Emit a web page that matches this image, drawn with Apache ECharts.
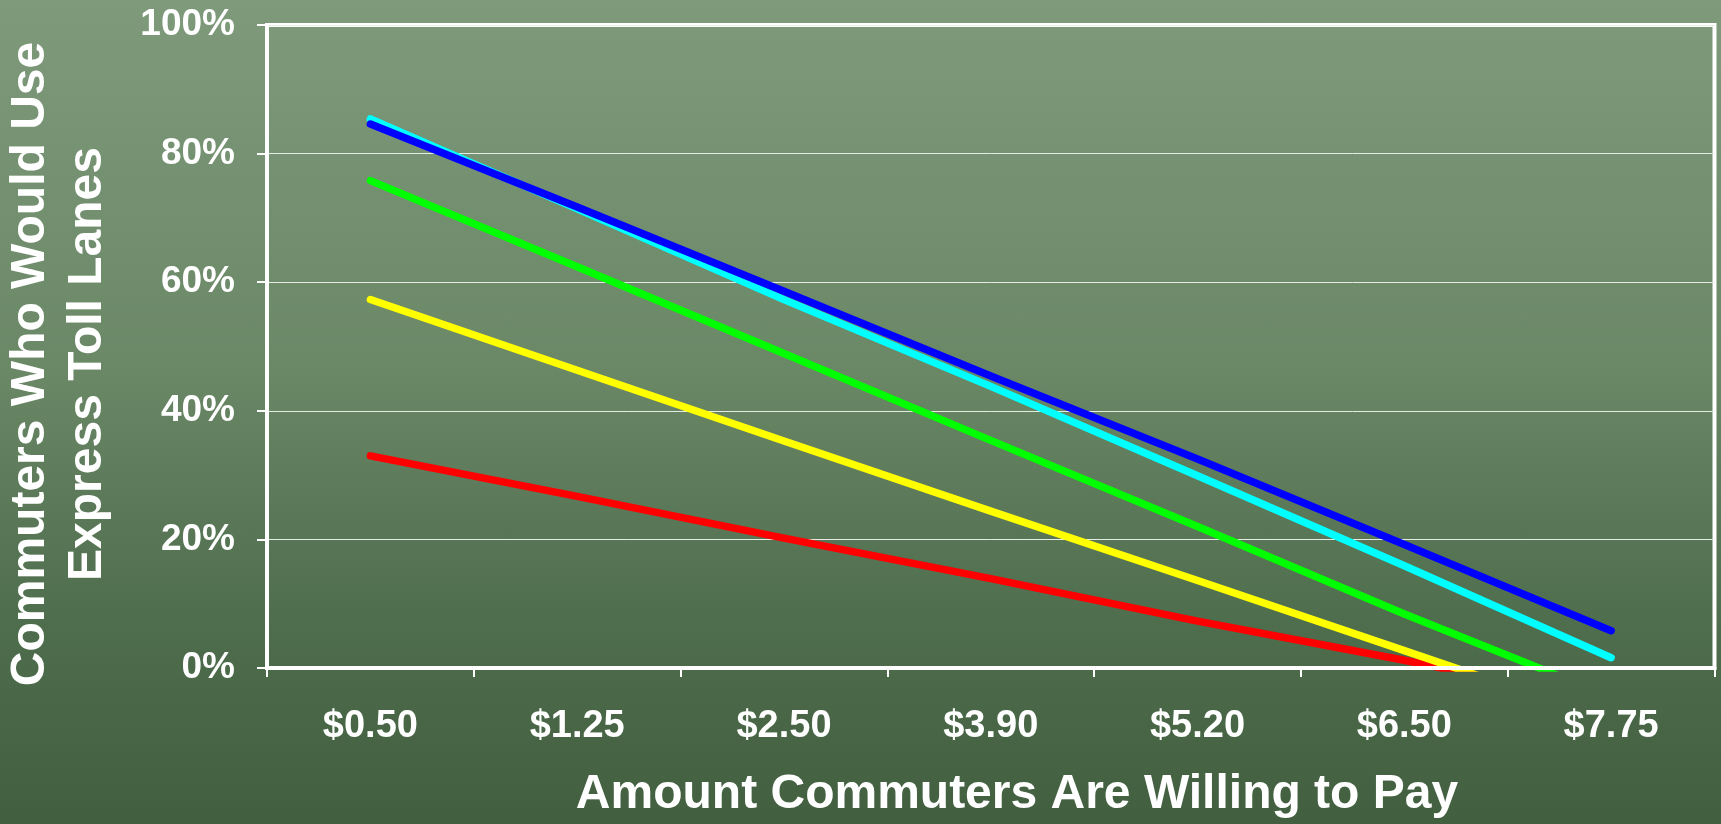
<!DOCTYPE html>
<html>
<head>
<meta charset="utf-8">
<script src="https://cdn.jsdelivr.net/npm/echarts@6/dist/echarts.min.js"></script>
<style>
  html, body { margin: 0; padding: 0; width: 1721px; height: 824px; overflow: hidden;
    background: linear-gradient(to bottom, #7e9a7b 0%, #6a8766 45%, #4f6e4d 75%, #425f40 100%); }
  #chart { width: 1721px; height: 824px; }
</style>
</head>
<body>
<div id="chart"></div>
<script>
// Data (percent of commuters who would use express toll lanes)
const categories = ['$0.50', '$1.25', '$2.50', '$3.90', '$5.20', '$6.50', '$7.75'];
const redValues    = [33.0, 26.7, 20.2, 13.9, 7.3, 1.2, -5.5];
const yellowValues = [57.3, 46.3, 35.3, 24.4, 13.6, 2.7, -8.2];
const greenValues  = [75.8, 62.4, 48.9, 35.4, 22.0, 8.4, -4.5];
const cyanValues   = [85.4, 71.4, 57.3, 43.8, 29.9, 15.9, 1.6];
const blueValues   = [84.6, 71.7, 58.6, 45.4, 32.5, 19.2, 5.8];
const yTicks = [0, 20, 40, 60, 80, 100];
const xTitle = 'Amount Commuters Are Willing to Pay';
const yTitle1 = 'Commuters Who Would Use';
const yTitle2 = 'Express Toll Lanes';

const font = '"Liberation Sans", Arial, Helvetica, sans-serif';
const chart = echarts.init(document.getElementById('chart'), null, { renderer: 'canvas' });

function line(name, data, color) {
  return {
    name: name, type: 'line', data: data, showSymbol: false, symbol: 'none',
    clip: true, smooth: false, silent: true,
    lineStyle: { color: color, width: 7.5, cap: 'round', join: 'round' },
    z: 2
  };
}

chart.setOption({
  backgroundColor: 'transparent',
  animation: false,
  grid: { left: 267, right: 6.5, top: 25, bottom: 156, show: true,
          borderColor: '#ffffff', borderWidth: 4, backgroundColor: 'transparent' },
  xAxis: {
    type: 'category', data: categories, boundaryGap: true, z: 5,
    axisLine: { show: true, lineStyle: { color: '#ffffff', width: 4 } },
    axisTick: { show: true, length: 9, lineStyle: { color: '#ffffff', width: 2 } },
    axisLabel: { color: '#ffffff', fontFamily: font, fontWeight: 'bold', fontSize: 38, margin: 40 },
    splitLine: { show: false }
  },
  yAxis: {
    type: 'value', min: yTicks[0], max: yTicks[yTicks.length - 1], interval: 20, z: 1,
    axisLine: { show: true, lineStyle: { color: '#ffffff', width: 4 } },
    axisTick: { show: true, inside: false, length: 10, lineStyle: { color: '#ffffff', width: 2 } },
    axisLabel: { color: '#ffffff', fontFamily: font, fontWeight: 'bold', fontSize: 37, margin: 32,
                 formatter: v => v + '%' },
    splitLine: { show: true, lineStyle: { color: '#e6ebe6', width: 1 } }
  },
  graphic: [
    { type: 'text', x: 1017, y: 795,
      style: { text: xTitle, fill: '#ffffff', font: 'bold 48px ' + font, textAlign: 'center', textVerticalAlign: 'middle' } },
    { type: 'text', x: 31, y: 364, rotation: Math.PI / 2,
      style: { text: yTitle1, fill: '#ffffff', font: 'bold 48px ' + font, textAlign: 'center', textVerticalAlign: 'middle' } },
    { type: 'text', x: 88, y: 364, rotation: Math.PI / 2,
      style: { text: yTitle2, fill: '#ffffff', font: 'bold 48px ' + font, textAlign: 'center', textVerticalAlign: 'middle' } }
  ],
  series: [
    line('Red', redValues, '#ff0000'),
    line('Yellow', yellowValues, '#ffff00'),
    line('Green', greenValues, '#00ff00'),
    line('Cyan', cyanValues, '#00ffff'),
    line('Blue', blueValues, '#0000ff')
  ]
});
</script>
</body>
</html>
